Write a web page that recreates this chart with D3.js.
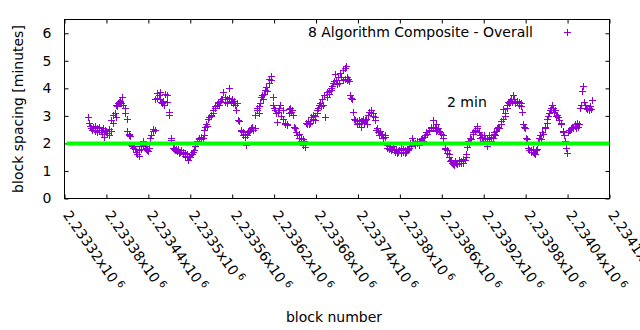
<!DOCTYPE html>
<html>
<head>
<meta charset="utf-8">
<script src="https://cdn.jsdelivr.net/npm/d3@7"></script>
<style>
  body { margin: 0; background: #fff; }
  text { font-family: "DejaVu Sans", sans-serif; fill: #000; }
</style>
</head>
<body>
<svg id="chart" width="640" height="330"></svg>
<script>
// Axis ticks
const xTickBlocks = [2233320, 2233380, 2233440, 2233500, 2233560, 2233620, 2233680,
                     2233740, 2233800, 2233860, 2233920, 2233980, 2234040, 2234100];
const xTickMantissas = ["2.23332", "2.23338", "2.23344", "2.2335", "2.23356", "2.23362", "2.23368",
                        "2.23374", "2.2338", "2.23386", "2.23392", "2.23398", "2.23404", "2.2341"];
const yTicks = [0, 1, 2, 3, 4, 5, 6];
const thresholdMinutes = 2;
const seriesName = "8 Algorithm Composite - Overall";
const thresholdLabel = "2 min";

// [block number, block spacing in minutes]
const samples = [
  [2233354,2.96],[2233355,2.74],[2233357,2.62],[2233358,2.55],[2233360,2.5],[2233361,2.6],
  [2233363,2.45],[2233364,2.62],[2233366,2.55],[2233367,2.4],[2233369,2.48],[2233370,2.6],
  [2233372,2.5],[2233373,2.35],[2233374,2.42],[2233375,2.55],[2233377,2.25],[2233378,2.5],
  [2233380,2.45],[2233381,2.38],[2233383,2.52],[2233384,2.3],[2233386,2.45],[2233387,2.85],
  [2233389,3.05],[2233390,2.75],[2233392,3.1],[2233393,2.95],[2233394,3.4],[2233395,3.35],
  [2233397,3.45],[2233398,3.5],[2233400,3.55],[2233401,3.45],[2233403,3.68],[2233404,3.4],
  [2233406,3.3],[2233407,3.1],[2233409,2.9],[2233410,2.45],[2233412,2.35],[2233413,2.3],
  [2233414,2.28],[2233415,1.95],[2233417,1.9],[2233418,1.85],[2233420,1.92],[2233421,1.78],
  [2233423,1.7],[2233424,1.6],[2233426,1.55],[2233427,1.75],[2233429,1.8],[2233430,1.9],
  [2233432,1.95],[2233433,2.1],[2233435,1.9],[2233436,1.85],[2233437,1.8],[2233438,1.75],
  [2233440,1.72],[2233441,1.85],[2233443,2.2],[2233444,2.3],[2233446,2.45],[2233447,2.53],
  [2233449,2.5],[2233450,3.6],[2233452,3.65],[2233453,3.84],[2233455,3.75],[2233456,3.85],
  [2233457,3.6],[2233458,3.5],[2233460,3.45],[2233461,3.55],[2233463,3.4],[2233464,3.8],
  [2233466,3.5],[2233467,3.75],[2233469,3.14],[2233470,3.02],[2233472,2.12],[2233473,2.18],
  [2233475,1.85],[2233476,1.8],[2233477,1.82],[2233478,1.75],[2233480,1.78],[2233481,1.72],
  [2233483,1.8],[2233484,1.65],[2233486,1.7],[2233487,1.75],[2233489,1.62],[2233490,1.68],
  [2233492,1.55],[2233493,1.65],[2233495,1.5],[2233496,1.6],[2233497,1.38],[2233498,1.55],
  [2233500,1.5],[2233501,1.62],[2233503,1.6],[2233504,1.7],[2233506,1.75],[2233507,1.9],
  [2233509,2.1],[2233510,2.05],[2233512,2.15],[2233513,2.2],[2233515,2.25],[2233516,2.15],
  [2233518,2.2],[2233519,2.3],[2233520,2.5],[2233521,2.6],[2233523,2.7],[2233524,2.65],
  [2233526,2.88],[2233527,2.95],[2233529,3.0],[2233530,3.05],[2233532,3.1],[2233533,3.2],
  [2233535,3.3],[2233536,3.35],[2233538,3.4],[2233539,3.45],[2233540,3.5],[2233541,3.38],
  [2233543,3.55],[2233544,3.6],[2233546,3.62],[2233547,3.87],[2233549,3.7],[2233550,3.5],
  [2233552,3.6],[2233553,3.45],[2233555,4.0],[2233556,3.65],[2233558,3.55],[2233559,3.5],
  [2233560,3.6],[2233561,3.45],[2233563,3.55],[2233564,3.4],[2233566,3.2],[2233567,3.48],
  [2233569,2.85],[2233570,2.8],[2233572,2.5],[2233573,2.45],[2233575,2.4],[2233576,2.3],
  [2233578,2.35],[2233579,2.25],[2233580,1.96],[2233581,2.3],[2233583,2.4],[2233584,2.45],
  [2233586,2.5],[2233587,2.55],[2233589,2.6],[2233590,2.5],[2233592,2.55],[2233593,3.05],
  [2233595,3.2],[2233596,3.3],[2233598,3.35],[2233599,3.1],[2233600,3.45],[2233601,3.7],
  [2233603,3.75],[2233604,3.6],[2233606,3.8],[2233607,3.95],[2233609,4.05],[2233610,3.9],
  [2233612,4.2],[2233613,4.35],[2233615,4.45],[2233616,4.3],[2233618,3.68],[2233619,3.4],
  [2233620,3.3],[2233621,3.2],[2233623,3.1],[2233624,2.77],[2233626,3.15],[2233627,3.3],
  [2233629,3.4],[2233630,3.0],[2233632,2.9],[2233633,3.2],[2233635,2.75],[2233636,2.7],
  [2233638,2.72],[2233639,2.68],[2233641,3.1],[2233642,3.25],[2233643,3.3],[2233644,3.15],
  [2233646,3.2],[2233647,3.05],[2233649,2.6],[2233650,2.55],[2233652,2.4],[2233653,2.3],
  [2233655,2.35],[2233656,2.2],[2233658,2.2],[2233659,2.1],[2233661,2.15],[2233662,1.93],
  [2233663,2.1],[2233664,1.87],[2233666,2.75],[2233667,2.7],[2233669,2.8],[2233670,2.72],
  [2233672,2.75],[2233673,2.95],[2233675,2.9],[2233676,3.05],[2233678,3.0],[2233679,2.85],
  [2233681,3.1],[2233682,3.2],[2233683,3.3],[2233684,3.4],[2233686,3.45],[2233687,3.35],
  [2233689,3.6],[2233690,3.4],[2233692,3.75],[2233693,2.96],[2233695,3.7],[2233696,3.85],
  [2233698,3.9],[2233699,3.8],[2233701,4.0],[2233702,3.95],[2233703,4.1],[2233704,4.2],
  [2233706,4.25],[2233707,4.53],[2233709,4.3],[2233710,4.15],[2233712,4.4],[2233713,4.2],
  [2233715,4.55],[2233716,4.4],[2233718,4.65],[2233719,4.3],[2233721,4.75],[2233722,4.35],
  [2233723,4.8],[2233724,4.4],[2233725,4.3],[2233726,4.35],[2233727,4.25],[2233729,3.75],
  [2233730,3.65],[2233732,3.6],[2233733,3.15],[2233735,2.9],[2233736,2.85],[2233738,2.8],
  [2233739,2.7],[2233741,2.85],[2233742,2.75],[2233744,2.6],[2233745,2.8],[2233746,2.8],
  [2233747,2.9],[2233749,2.75],[2233750,2.85],[2233752,2.9],[2233753,2.7],[2233755,3.05],
  [2233756,3.15],[2233758,3.2],[2233759,3.1],[2233761,3.1],[2233762,3.0],[2233764,2.85],
  [2233765,2.95],[2233766,2.5],[2233767,2.55],[2233769,2.4],[2233770,2.3],[2233772,2.45],
  [2233773,2.3],[2233775,2.35],[2233776,2.2],[2233778,2.3],[2233779,2.25],[2233781,1.95],
  [2233782,1.85],[2233784,1.9],[2233785,1.8],[2233786,1.85],[2233787,1.75],[2233789,1.8],
  [2233790,1.9],[2233792,1.75],[2233793,1.7],[2233795,1.8],[2233796,1.65],[2233798,1.7],
  [2233799,1.75],[2233801,1.85],[2233802,1.65],[2233804,1.7],[2233805,1.8],[2233807,1.75],
  [2233808,1.65],[2233809,1.7],[2233810,1.8],[2233812,1.75],[2233813,1.85],[2233815,2.0],
  [2233816,1.9],[2233818,2.2],[2233819,2.05],[2233821,1.95],[2233822,2.0],[2233824,2.0],
  [2233825,2.1],[2233827,2.05],[2233828,1.95],[2233829,2.1],[2233830,2.15],[2233832,2.2],
  [2233833,2.1],[2233835,2.25],[2233836,2.3],[2233838,2.4],[2233839,2.35],[2233841,2.5],
  [2233842,2.45],[2233844,2.6],[2233845,2.55],[2233847,2.55],[2233848,2.84],[2233850,2.6],
  [2233851,2.45],[2233852,2.7],[2233853,2.5],[2233855,2.55],[2233856,2.45],[2233858,2.4],
  [2233859,2.35],[2233861,2.3],[2233862,2.2],[2233864,1.85],[2233865,1.8],[2233867,1.75],
  [2233868,1.65],[2233870,1.6],[2233871,1.5],[2233872,1.35],[2233873,1.4],[2233875,1.3],
  [2233876,1.25],[2233878,1.2],[2233879,1.35],[2233881,1.3],[2233882,1.25],[2233884,1.4],
  [2233885,1.3],[2233887,1.35],[2233888,1.3],[2233890,1.45],[2233891,1.3],[2233893,1.4],
  [2233894,1.5],[2233895,1.62],[2233896,1.87],[2233898,2.1],[2233899,2.0],[2233901,2.2],
  [2233902,2.15],[2233904,2.35],[2233905,2.4],[2233907,2.5],[2233908,2.45],[2233910,2.55],
  [2233911,2.65],[2233913,2.4],[2233914,2.3],[2233915,2.2],[2233916,2.3],[2233918,2.25],
  [2233919,2.1],[2233921,2.3],[2233922,2.2],[2233924,2.15],[2233925,1.89],[2233927,2.2],
  [2233928,2.3],[2233930,2.1],[2233931,2.25],[2233933,2.2],[2233934,2.35],[2233935,2.4],
  [2233936,2.3],[2233938,2.45],[2233939,2.55],[2233941,2.6],[2233942,2.55],[2233944,2.8],
  [2233945,2.7],[2233947,2.9],[2233948,3.26],[2233950,3.0],[2233951,3.1],[2233953,3.3],
  [2233954,3.4],[2233955,3.5],[2233956,3.45],[2233958,3.55],[2233959,3.6],[2233961,3.5],
  [2233962,3.77],[2233964,3.6],[2233965,3.45],[2233967,3.55],[2233968,3.5],[2233970,3.5],
  [2233971,3.4],[2233973,3.45],[2233974,3.35],[2233975,3.14],[2233976,2.7],[2233978,2.6],
  [2233979,2.55],[2233981,2.2],[2233982,2.15],[2233984,1.85],[2233985,1.75],[2233987,1.75],
  [2233988,1.7],[2233990,1.8],[2233991,1.7],[2233992,1.65],[2233993,1.6],[2233995,1.75],
  [2233996,1.8],[2233998,2.05],[2233999,2.2],[2234001,2.3],[2234002,2.15],[2234004,2.4],
  [2234005,2.35],[2234007,2.6],[2234008,2.55],[2234010,2.75],[2234011,2.9],[2234012,3.0],
  [2234013,3.1],[2234015,3.2],[2234016,3.3],[2234018,3.4],[2234019,3.3],[2234021,3.15],
  [2234022,3.2],[2234024,3.0],[2234025,3.05],[2234027,2.95],[2234028,2.85],[2234030,2.7],
  [2234031,2.75],[2234033,2.45],[2234034,2.4],[2234035,2.3],[2234036,2.1],[2234038,1.85],
  [2234039,1.67],[2234041,2.4],[2234042,2.5],[2234044,2.5],[2234045,2.55],[2234047,2.6],
  [2234048,2.55],[2234050,2.65],[2234051,2.7],[2234052,2.55],[2234053,2.75],[2234055,2.6],
  [2234056,2.7],[2234058,3.3],[2234059,3.4],[2234061,3.9],[2234062,4.1],[2234064,3.5],
  [2234065,3.4],[2234067,3.3],[2234068,3.25],[2234070,3.2],[2234071,3.3],[2234072,3.35],
  [2234073,3.25],[2234075,3.56]
];

const plotLeft = 64.5, plotRight = 609.5, plotTop = 19.5, plotBottom = 198.5;
const violet = "#9400d3";
const svg = d3.select("#chart");

const x = d3.scaleLinear()
  .domain([xTickBlocks[0], xTickBlocks[xTickBlocks.length - 1]])
  .range([plotLeft, plotRight]);
const y = d3.scaleLinear().domain([0, 6.5]).range([plotBottom, plotTop]);

function styleAxis(g) {
  g.select(".domain").remove();
  g.selectAll(".tick line").attr("stroke", "#000");
  g.selectAll(".tick text").attr("fill", "#000")
    .style("font-family", "'DejaVu Sans', sans-serif").style("font-size", "14px");
}

// Inward ticks on all four sides
svg.append("g").attr("transform", `translate(${plotLeft},0)`)
  .call(d3.axisLeft(y).tickValues(yTicks).tickSize(-4).tickPadding(13).tickFormat(d3.format("d")))
  .call(styleAxis);
svg.append("g").attr("transform", `translate(${plotRight},0)`)
  .call(d3.axisRight(y).tickValues(yTicks).tickSize(-4).tickFormat(""))
  .call(styleAxis);
svg.append("g").attr("transform", `translate(0,${plotBottom})`)
  .call(d3.axisBottom(x).tickValues(xTickBlocks).tickSize(-4).tickFormat(""))
  .call(styleAxis);
svg.append("g").attr("transform", `translate(0,${plotTop})`)
  .call(d3.axisTop(x).tickValues(xTickBlocks).tickSize(-4).tickFormat(""))
  .call(styleAxis);

// Rotated x tick labels in scientific notation
const xl = svg.append("g").selectAll("text")
  .data(xTickBlocks)
  .join("text")
  .attr("transform", d => `translate(${x(d) - 2},215) rotate(55)`)
  .attr("text-anchor", "start")
  .style("font-size", "14px");
xl.append("tspan").text((d, i) => xTickMantissas[i] + "x10");
xl.append("tspan").attr("dx", 3).attr("dy", -5).style("font-size", "10px").text("6");

// Frame
svg.append("rect")
  .attr("x", plotLeft).attr("y", plotTop)
  .attr("width", plotRight - plotLeft).attr("height", plotBottom - plotTop)
  .attr("fill", "none").attr("stroke", "#000").attr("stroke-width", 1);

// Plus markers
function plusPath(cx, cy, r) {
  const px = Math.round(cx) + 0.5, py = Math.round(cy) + 0.5;
  return `M${px - r},${py}H${px + r}M${px},${py - r}V${py + r}`;
}
svg.append("path")
  .attr("d", samples.map(d => plusPath(x(d[0]), y(d[1]), 3.5)).join(""))
  .attr("fill", "none").attr("stroke", violet).attr("stroke-width", 1);

// 2 minute reference line
svg.append("line")
  .attr("x1", plotLeft + 2).attr("x2", plotRight)
  .attr("y1", y(thresholdMinutes)).attr("y2", y(thresholdMinutes))
  .attr("stroke", "#00ff00").attr("stroke-width", 4);

// Key
svg.append("text").attr("x", 533).attr("y", 37).attr("text-anchor", "end")
  .style("font-size", "14px").text(seriesName);
svg.append("path").attr("d", plusPath(567, 32, 3.5))
  .attr("fill", "none").attr("stroke", violet).attr("stroke-width", 1);

svg.append("text").attr("x", 447).attr("y", 107).style("font-size", "14px").text(thresholdLabel);

// Axis titles
svg.append("text").attr("transform", "translate(22.5,109) rotate(-90)")
  .attr("text-anchor", "middle").style("font-size", "14px").text("block spacing [minutes]");
svg.append("text").attr("x", 334).attr("y", 321.5).attr("text-anchor", "middle")
  .style("font-size", "14px").text("block number");
</script>
</body>
</html>
